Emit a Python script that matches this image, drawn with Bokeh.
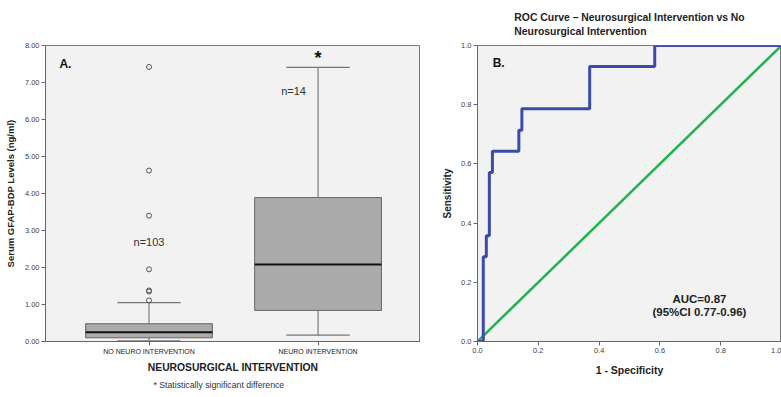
from bokeh.plotting import figure
from bokeh.layouts import row
from bokeh.models import Label, Title, FixedTicker, NumeralTickFormatter, Range1d
from bokeh.embed import file_html
from bokeh.resources import INLINE

# ---------------- data: panel A (box plot) ----------------
group_pos = [1, 2]
group_labels = ["NO NEURO INTERVENTION", "NEURO INTERVENTION"]
q1 = [0.10, 0.84]
median = [0.25, 2.08]
q3 = [0.48, 3.89]
whisk_lo = [0.02, 0.17]
whisk_hi = [1.05, 7.41]
outliers_group = [1, 1, 1, 1, 1, 1, 1]
outliers_val = [7.42, 4.62, 3.40, 1.95, 1.38, 1.35, 1.11]
n_labels = ["n=103", "n=14"]
y_ticks_a = [0, 1, 2, 3, 4, 5, 6, 7, 8]

# ---------------- data: panel B (ROC) ----------------
fpr = [0.0, 0.019, 0.019, 0.029, 0.029, 0.039, 0.039, 0.049, 0.049,
       0.136, 0.136, 0.146, 0.146, 0.369, 0.369, 0.583, 0.583, 1.0]
tpr = [0.0, 0.0, 0.286, 0.286, 0.357, 0.357, 0.571, 0.571, 0.643,
       0.643, 0.714, 0.714, 0.786, 0.786, 0.929, 0.929, 1.0, 1.0]
ref_x = [0.0, 1.0]
ref_y = [0.0, 1.0]
roc_ticks = [0.0, 0.2, 0.4, 0.6, 0.8, 1.0]

FONT = "Liberation Sans"
BOX_W = 0.75
CAP_W = 0.375


def style(p):
    p.background_fill_color = "#F2F2F2"
    p.border_fill_color = "white"
    p.outline_line_color = "#777777"
    p.outline_line_width = 1
    p.xgrid.visible = False
    p.ygrid.visible = False
    for ax in (p.xaxis[0], p.yaxis[0]):
        ax.axis_line_color = "#666666"
        ax.major_tick_line_color = "#666666"
        ax.major_tick_out = 4
        ax.major_tick_in = 0
        ax.minor_tick_line_color = None
        ax.major_label_text_font = FONT
        ax.major_label_text_font_size = "7.5px"
        ax.major_label_text_color = "#444444"
        ax.major_label_standoff = 2
        ax.axis_label_text_font = FONT
        ax.axis_label_text_font_style = "bold"
        ax.axis_label_text_color = "#222222"


# ---------------- panel A ----------------
p1 = figure(width=420, height=397, output_backend="svg", toolbar_location=None,
            x_range=Range1d(0.3876, 2.606), y_range=Range1d(0, 8),
            min_border_left=45, min_border_right=0, min_border_top=45,
            min_border_bottom=56)
style(p1)

p1.segment(x0=group_pos, y0=q3, x1=group_pos, y1=whisk_hi, line_color="#666666", line_width=1)
p1.segment(x0=group_pos, y0=q1, x1=group_pos, y1=whisk_lo, line_color="#666666", line_width=1)
p1.segment(x0=[g - CAP_W / 2 for g in group_pos], y0=whisk_hi,
           x1=[g + CAP_W / 2 for g in group_pos], y1=whisk_hi, line_color="#777777", line_width=1.2)
p1.segment(x0=[g - CAP_W / 2 for g in group_pos], y0=whisk_lo,
           x1=[g + CAP_W / 2 for g in group_pos], y1=whisk_lo, line_color="#777777", line_width=1.2)
p1.vbar(x=group_pos, width=BOX_W, bottom=q1, top=q3, fill_color="#ABABAB",
        line_color="#666666", line_width=1)
p1.segment(x0=[g - BOX_W / 2 for g in group_pos], y0=median,
           x1=[g + BOX_W / 2 for g in group_pos], y1=median, line_color="#111111", line_width=2)
p1.scatter(x=outliers_group, y=outliers_val, size=5, marker="circle",
           fill_color=None, line_color="#555555", line_width=1)

p1.xaxis.ticker = FixedTicker(ticks=group_pos)
p1.xaxis.major_label_overrides = {g: l for g, l in zip(group_pos, group_labels)}
p1.xaxis.major_label_text_font_size = "7px"
p1.xaxis.major_label_text_color = "#222222"
p1.xaxis.axis_label = "NEUROSURGICAL INTERVENTION"
p1.xaxis.axis_label_text_font_size = "10.3px"
p1.xaxis.axis_label_standoff = 4
p1.yaxis.ticker = FixedTicker(ticks=y_ticks_a)
p1.yaxis.formatter = NumeralTickFormatter(format="0.00")
p1.yaxis.axis_label = "Serum GFAP-BDP Levels (ng/ml)"
p1.yaxis.axis_label_text_font_size = "9.5px"
p1.yaxis.axis_label_standoff = 6

p1.add_layout(Label(x=0.47, y=7.51, text="A.", text_font=FONT, text_font_style="bold",
                    text_font_size="12px", text_color="#111111", text_baseline="middle"))
p1.add_layout(Label(x=1, y=2.68, text=n_labels[0], text_font=FONT, text_font_size="11px",
                    text_color="#333333", text_align="center", text_baseline="middle"))
p1.add_layout(Label(x=1.855, y=6.76, text=n_labels[1], text_font=FONT, text_font_size="11px",
                    text_color="#333333", text_align="center", text_baseline="middle"))
p1.add_layout(Label(x=2, y=7.65, text="*", text_font=FONT, text_font_style="bold",
                    text_font_size="18px", text_color="#111111", text_align="center",
                    text_baseline="middle"))
p1.add_layout(Title(text="*    Statistically significant difference", text_font=FONT,
                    text_font_size="8.7px", text_font_style="normal", text_color="#333333",
                    align="left", offset=108, standoff=4), "below")

# ---------------- panel B ----------------
p2 = figure(width=361, height=397, output_backend="svg", toolbar_location=None,
            x_range=Range1d(0, 1), y_range=Range1d(0, 1),
            min_border_left=57, min_border_right=0, min_border_top=45,
            min_border_bottom=56)
style(p2)
p2.line(ref_x, ref_y, line_color="#22B24C", line_width=2.5)
p2.line(fpr, tpr, line_color="#3B4BA8", line_width=3)

p2.xaxis.ticker = FixedTicker(ticks=roc_ticks)
p2.yaxis.ticker = FixedTicker(ticks=roc_ticks)
p2.xaxis.formatter = NumeralTickFormatter(format="0.0")
p2.yaxis.formatter = NumeralTickFormatter(format="0.0")
p2.xaxis.axis_label = "1 - Specificity"
p2.xaxis.axis_label_text_font_size = "10.5px"
p2.xaxis.axis_label_standoff = 8
p2.yaxis.axis_label = "Sensitivity"
p2.yaxis.axis_label_text_font_size = "10px"
p2.yaxis.axis_label_standoff = 5

p2.add_layout(Label(x=0.05, y=0.94, text="B.", text_font=FONT, text_font_style="bold",
                    text_font_size="12px", text_color="#111111", text_baseline="middle"))
p2.add_layout(Label(x=0.73, y=0.145, text="AUC=0.87", text_font=FONT, text_font_style="bold",
                    text_font_size="11.5px", text_color="#222222", text_align="center",
                    text_baseline="middle"))
p2.add_layout(Label(x=0.73, y=0.10, text="(95%CI 0.77-0.96)", text_font=FONT,
                    text_font_style="bold", text_font_size="11.5px", text_color="#222222",
                    text_align="center", text_baseline="middle"))

p2.add_layout(Title(text="ROC Curve \u2013 Neurosurgical Intervention vs No\nNeurosurgical Intervention",
                    text_font=FONT, text_font_size="10.4px", text_font_style="bold",
                    text_color="#222222", align="center", offset=-6, standoff=18,
                    text_line_height=1.25),
              "above")

layout = row(p1, p2, spacing=0)
open("out.html", "w").write(file_html(layout, INLINE))
